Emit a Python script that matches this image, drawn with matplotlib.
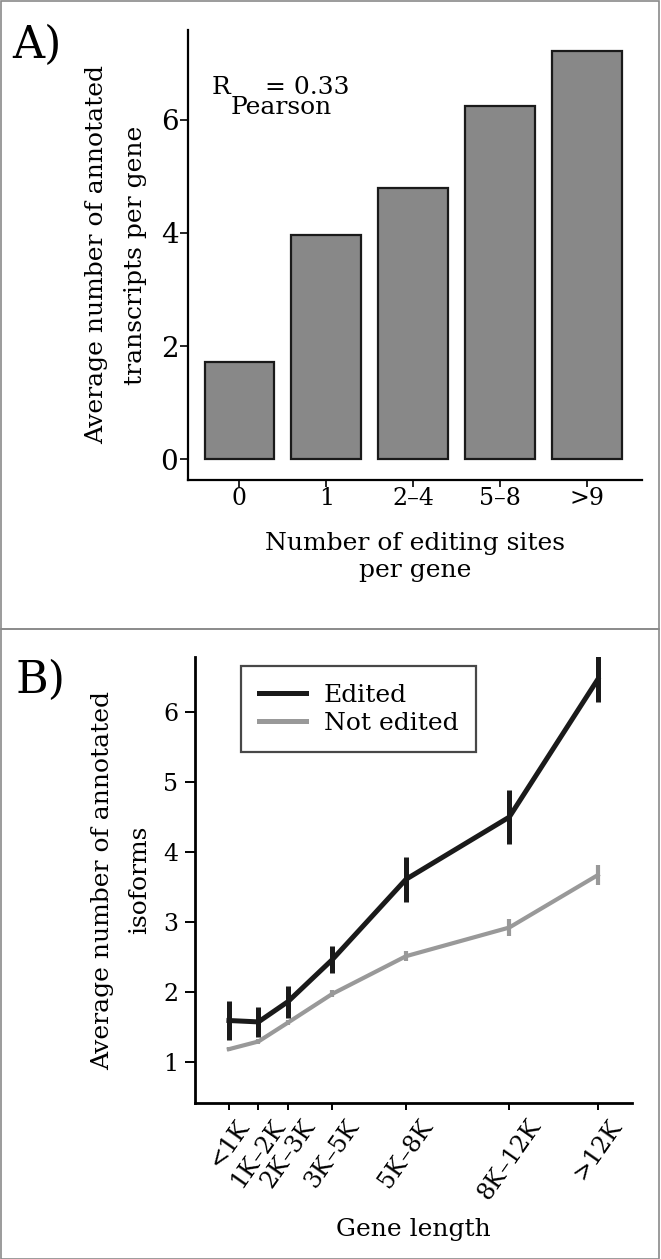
import numpy as np
import matplotlib
matplotlib.use('Agg')
import matplotlib.pyplot as plt
from matplotlib.patches import Rectangle
from matplotlib.lines import Line2D

plt.rcParams['font.family'] = ['DejaVu Serif']

# panel A data
site_bins = ['0', '1', '2\u20134', '5\u20138', '>9']
transcripts_per_gene = [1.72, 3.97, 4.79, 6.25, 7.22]
r_pearson = 0.33

# panel B data
length_bins = ['<1K', '1K\u20132K', '2K\u20133K', '3K\u20135K', '5K\u20138K', '8K\u201312K', '>12K']
length_mid_kb = [0.5, 1.5, 2.5, 4.0, 6.5, 10.0, 13.0]
edited_mean = [1.59, 1.57, 1.86, 2.46, 3.61, 4.50, 6.47]
edited_err = [0.28, 0.21, 0.23, 0.19, 0.32, 0.39, 0.33]
not_edited_mean = [1.18, 1.29, 1.56, 1.97, 2.51, 2.92, 3.67]
not_edited_err = [0.03, 0.03, 0.04, 0.05, 0.07, 0.12, 0.14]

W, H = 661, 1259
fig = plt.figure(figsize=(W / 100, H / 100), dpi=100)

def fx(px):
    return px / W

def fy(py):
    return 1 - py / H

# panel frames
border = '#8a8a8a'
for y0, y1 in [(0.5, 629), (629, 1258.5)]:
    fig.patches.append(Rectangle((fx(0.5), fy(y1)), fx(659) - fx(0.5), fy(y0) - fy(y1),
                                 transform=fig.transFigure, fill=False,
                                 edgecolor=border, lw=1.2))

## Panel A
axA = fig.add_axes([fx(188), fy(480), fx(642) - fx(188), fy(30) - fy(480)])
xa = np.arange(len(site_bins))
axA.bar(xa, transcripts_per_gene, width=0.8, color='#888888',
        edgecolor='#1a1a1a', linewidth=1.6)
axA.set_xlim(-0.59, 4.63)
axA.set_ylim(-0.37, 7.59)
axA.set_yticks([0, 2, 4, 6])
axA.set_xticks(xa)
axA.set_xticklabels(site_bins)
for s in ['top', 'right']:
    axA.spines[s].set_visible(False)
for s in ['left', 'bottom']:
    axA.spines[s].set_linewidth(1.6)
axA.tick_params(axis='x', labelsize=17, length=5, width=1.2, pad=0)
axA.tick_params(axis='y', labelsize=20, length=6, width=1.2, pad=1)
axA.set_xlabel('Number of editing sites\nper gene', fontsize=18, labelpad=16, linespacing=1.2)
axA.set_ylabel('Average number of annotated\ntranscripts per gene', fontsize=18,
               labelpad=10, linespacing=1.85)
axA.text(-0.32, 6.58, 'R', fontsize=18, ha='left', va='center')
axA.text(0.29, 6.58, '= %.2f' % r_pearson, fontsize=18, ha='left', va='center')
axA.text(-0.1, 6.22, 'Pearson', fontsize=18, ha='left', va='center')
fig.text(fx(12), fy(45), 'A)', fontsize=32, ha='left', va='center')

## Panel B
axB = fig.add_axes([fx(195), fy(1103), fx(632) - fx(195), fy(657) - fy(1103)])
axB.errorbar(length_mid_kb, edited_mean, yerr=edited_err, color='#1a1a1a',
             lw=3.6, elinewidth=3.6, capsize=0, label='Edited', zorder=3)
axB.errorbar(length_mid_kb, not_edited_mean, yerr=not_edited_err, color='#999999',
             lw=3.0, elinewidth=3.0, capsize=0, label='Not edited', zorder=2)
axB.set_xlim(-0.65, 14.16)
axB.set_ylim(0.41, 6.79)
axB.set_yticks([1, 2, 3, 4, 5, 6])
axB.set_xticks(length_mid_kb)
axB.set_xticklabels(length_bins, rotation=55, ha='center', va='top')
for s in ['top', 'right']:
    axB.spines[s].set_visible(False)
for s in ['left', 'bottom']:
    axB.spines[s].set_linewidth(2.0)
axB.tick_params(axis='x', labelsize=17, length=5, width=1.4, pad=4)
axB.tick_params(axis='y', labelsize=17, length=7, width=1.4, pad=5)
axB.set_xlabel('Gene length', fontsize=18, labelpad=10)
axB.set_ylabel('Average number of annotated\nisoforms', fontsize=18, labelpad=9,
               linespacing=1.75)
handles = [Line2D([], [], color='#1a1a1a', lw=3.6), Line2D([], [], color='#999999', lw=3.6)]
leg = axB.legend(handles, ['Edited', 'Not edited'], loc='upper left',
                 bbox_to_anchor=(fx(241 - 195) / (fx(632) - fx(195)), 1 - (666 - 657) / (1103 - 657)),
                 fontsize=18, frameon=True, fancybox=False, borderaxespad=0,
                 handlelength=1.9, labelspacing=0.2, borderpad=0.7, handletextpad=0.7)
leg.get_frame().set_edgecolor('#1a1a1a')
leg.get_frame().set_linewidth(1.6)
fig.text(fx(15), fy(680), 'B)', fontsize=32, ha='left', va='center')

fig.savefig('out.png', dpi=100)
